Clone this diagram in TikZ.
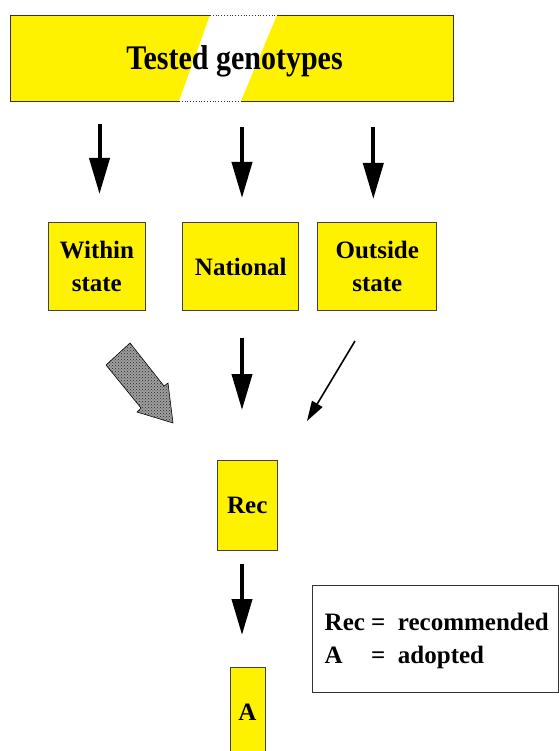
\documentclass[tikz,border=0pt]{standalone}
\usepackage{fontspec}
\setmainfont{Liberation Serif}
\usetikzlibrary{arrows.meta,patterns}
\begin{document}
\begin{tikzpicture}[x=1pt,y=-1pt,line width=0.8pt,
  yellowbox/.style={draw=black!75,fill=yellow,align=center,inner sep=0pt,
    font=\fontsize{25}{33}\selectfont\bfseries},
  bigarrow/.style={line width=4pt,-{Triangle[length=36pt,width=20pt]}},
  thinarrow/.style={line width=1.6pt,-{Triangle[length=20pt,width=12pt]}}]
 \useasboundingbox (0,0) rectangle (558,751);
 % title box, cut by a white slanted band
 \fill[yellow] (10,15)--(210,15)--(179,101)--(10,101)--cycle;
 \fill[yellow] (277,15)--(453,15)--(453,101)--(241,101)--cycle;
 \draw[black!80] (210,15)--(10,15)--(10,101)--(179,101);
 \draw[black!80] (277,15)--(453,15)--(453,101)--(241,101);
 \draw[black!80,dotted] (210,15)--(277,15) (179,101)--(241,101);
 \node[font=\fontsize{30}{36}\selectfont\bfseries] (title) at (234.5,61)
   {\scalebox{1}[1.15]{Tested genotypes}};
 % the three sources
 \node[yellowbox,minimum width=97pt,minimum height=88pt] (within) at (96.8,266.5) {Within\\state};
 \node[yellowbox,minimum width=116pt,minimum height=88pt] (national) at (240.8,266.5) {National};
 \node[yellowbox,minimum width=119pt,minimum height=88pt] (outside) at (377.3,266.5) {Outside\\state};
 \coordinate (t1) at (99.5,124); \coordinate (h1) at (99.5,194);
 \coordinate (t2) at (242,127); \coordinate (h2) at (242,198);
 \coordinate (t3) at (373.3,127); \coordinate (h3) at (373.3,199);
 \foreach \i in {1,2,3} \draw[bigarrow] (t\i) -- (h\i);
 % converging arrows
 \path[fill=gray!75,draw=black,line width=0.6pt] (106,365)--(130,343)--(164,386)--(168,383)
   --(173,423)--(137,412)--(141,408)--cycle;
 \path[pattern=crosshatch dots,pattern color=black!85] (106,365)--(130,343)--(164,386)--(168,383)
   --(173,423)--(137,412)--(141,408)--cycle;
 \coordinate (t4) at (242,338); \coordinate (h4) at (242,410);
 \draw[bigarrow] (t4) -- (h4);
 \coordinate (t5) at (355,341); \coordinate (h5) at (307,421);
 \draw[thinarrow] (t5) -- (h5);
 % result
 \node[yellowbox,minimum width=60pt,minimum height=90pt] (rec) at (247.3,505) {Rec};
 \node[yellowbox,minimum width=35pt,minimum height=90pt] (adopt) at (247.5,712) {A};
 \coordinate (t6) at (242,564); \coordinate (h6) at (242,635);
 \draw[bigarrow] (t6) -- (h6);
 \node[draw=black!80,minimum width=246pt,minimum height=107pt,inner sep=0pt] (legend) at (435,638.5) {};
 \node[anchor=west,align=left,font=\fontsize{25}{33}\selectfont\bfseries] (legtext) at (321,641)
   {Rec =\ \ recommended\\\rlap{A}\phantom{Rec }=\ \ adopted};
\end{tikzpicture}
\end{document}
